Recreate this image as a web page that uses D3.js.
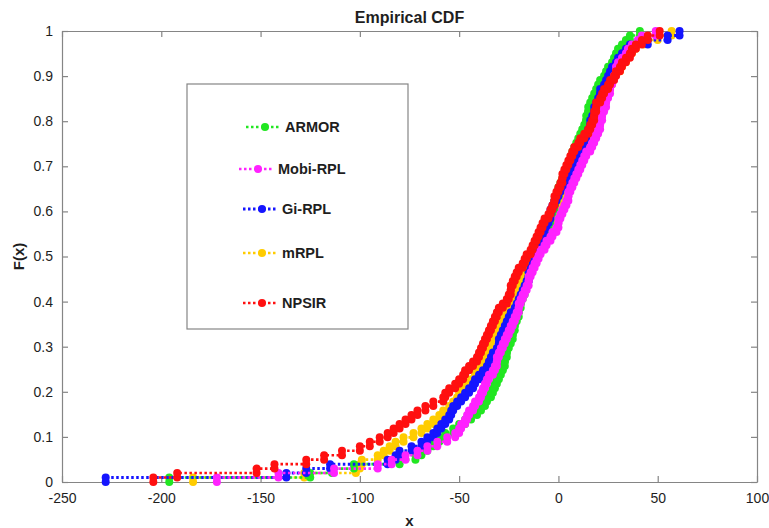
<!DOCTYPE html>
<html><head><meta charset="utf-8">
<script src="https://cdn.jsdelivr.net/npm/d3@7"></script>
<style>body{margin:0;background:#fff}svg{display:block}</style>
</head><body>
<svg id="chart" width="769" height="528"></svg>
<script>
// ---------------- DATA (sample values) ----------------
const seriesNames = ["ARMOR", "Mobi-RPL", "Gi-RPL", "mRPL", "NPSIR"];

const armorSamples = [-196,-125,-114,-103,-80,-72,-69,-66,-63,-60,
  -57,-53,-50,-47,-44,-41,-39,-37,-36,-34,
  -33,-32,-31,-30,-29,-28,-27,-27,-26,-26,
  -25,-24,-23,-23,-22,-22,-21,-20,-20,-19,
  -19,-18,-17,-17,-16,-15,-15,-14,-13,-12,
  -12,-11,-10,-9,-8,-7,-6,-5,-4,-4,
  -3,-2,-2,-1,0,0,1,2,3,4,
  5,6,7,7,8,9,10,11,12,13,
  14,14,15,15,16,17,18,19,20,21,
  23,24,25,27,28,29,30,32,34,36,41];

const mobiRplSamples = [-172,-141,-113,-91,-84,-77,-71,-66,-61,-56,
  -52,-50,-49,-47,-46,-45,-43,-42,-40,-39,
  -38,-37,-36,-35,-33,-32,-31,-31,-30,-29,
  -28,-27,-26,-25,-24,-23,-22,-21,-20,-20,
  -19,-18,-17,-16,-15,-15,-14,-13,-12,-11,
  -10,-9,-7,-6,-4,-3,-1,0,0,1,
  2,3,4,5,5,6,7,8,9,10,
  11,12,13,14,16,17,18,19,20,21,
  21,22,22,23,24,24,25,26,26,27,
  28,29,29,30,32,34,35,37,40,42,49];

const giRplSamples = [-228,-137,-127,-115,-86,-82,-80,-74,-69,-66,
  -63,-61,-59,-57,-55,-54,-53,-51,-49,-47,
  -45,-43,-42,-40,-38,-36,-35,-34,-33,-31,
  -30,-30,-29,-28,-27,-26,-25,-24,-22,-21,
  -20,-19,-18,-17,-16,-15,-15,-14,-13,-12,
  -12,-11,-10,-9,-8,-8,-7,-6,-5,-4,
  -4,-3,-2,-1,0,1,3,4,5,6,
  8,8,9,10,11,12,13,14,15,16,
  16,17,18,18,19,20,21,21,23,24,
  25,26,27,29,30,32,34,36,45,55,61];

const mRplSamples = [-184,-128,-102,-100,-99,-91,-88,-85,-82,-78,
  -73,-69,-66,-63,-60,-58,-55,-53,-51,-50,
  -48,-46,-44,-42,-41,-40,-39,-38,-37,-36,
  -35,-34,-33,-31,-30,-29,-27,-26,-25,-24,
  -23,-22,-21,-20,-19,-18,-17,-16,-15,-14,
  -12,-11,-10,-9,-7,-6,-5,-3,-2,-1,
  0,1,2,3,4,5,6,6,7,8,
  9,10,11,12,13,14,15,16,17,18,
  19,19,20,21,22,23,24,25,26,27,
  28,29,31,32,34,35,37,39,43,50,57];

const npsirSamples = [-204,-192,-152,-143,-127,-118,-109,-100,-95,-90,
  -86,-83,-80,-77,-74,-71,-67,-63,-58,-57,
  -55,-52,-50,-48,-47,-45,-43,-41,-40,-39,
  -38,-37,-36,-35,-34,-33,-32,-31,-30,-28,
  -26,-25,-24,-24,-23,-22,-21,-20,-18,-17,
  -16,-14,-13,-12,-11,-10,-9,-8,-7,-5,
  -4,-3,-2,-2,-1,0,1,2,2,3,
  4,5,6,7,8,10,11,13,15,16,
  17,18,18,19,19,21,22,23,25,26,
  28,29,31,32,34,36,37,39,42,45,51];

const xTickValues = [-250,-200,-150,-100,-50,0,50,100];
const xTickLabels = ["-250","-200","-150","-100","-50","0","50","100"];
const yTickValues = [0,0.1,0.2,0.3,0.4,0.5,0.6,0.7,0.8,0.9,1];
const yTickLabels = ["0","0.1","0.2","0.3","0.4","0.5","0.6","0.7","0.8","0.9","1"];

const titleText = "Empirical CDF";
const xLabelText = "x";
const yLabelText = "F(x)";

// ---------------- STYLE / LAYOUT ----------------
const samplesByName = {
  "ARMOR": armorSamples, "Mobi-RPL": mobiRplSamples, "Gi-RPL": giRplSamples,
  "mRPL": mRplSamples, "NPSIR": npsirSamples
};
const colorByName = {
  "ARMOR": "#22e622", "Mobi-RPL": "#ff22ff", "Gi-RPL": "#1515ff",
  "mRPL": "#ffcc00", "NPSIR": "#ff1010"
};
const drawOrder = ["mRPL", "ARMOR", "Gi-RPL", "Mobi-RPL", "NPSIR"];

const W = 769, H = 528;
const pLeft = 62, pRight = 757, pTop = 31, pBottom = 482;
const axisColor = "#858585", textColor = "#1e1e1e";
const fontFam = "'Liberation Sans', Arial, sans-serif";
const markerR = 4;

const svg = d3.select("#chart");
const x = d3.scaleLinear().domain([-250, 100]).range([pLeft, pRight]);
const y = d3.scaleLinear().domain([0, 1]).range([pBottom, pTop]);

svg.append("rect").attr("x", 0).attr("y", 0).attr("width", W).attr("height", H).attr("fill", "#fff");

// ---------------- AXES ----------------
function styleAxis(g, showText) {
  g.select(".domain").attr("stroke", axisColor).attr("stroke-width", 1.2);
  g.selectAll(".tick line").attr("stroke", axisColor).attr("stroke-width", 1.2);
  g.selectAll(".tick text")
    .attr("fill", textColor)
    .style("font-family", fontFam)
    .style("font-size", "14px")
    .style("display", showText ? null : "none");
}

const gx = svg.append("g").attr("transform", `translate(0,${pBottom})`)
  .call(d3.axisBottom(x).tickValues(xTickValues)
    .tickFormat((d, i) => xTickLabels[i]).tickSizeInner(-6).tickSizeOuter(0).tickPadding(11));
styleAxis(gx, true);

const gxTop = svg.append("g").attr("transform", `translate(0,${pTop})`)
  .call(d3.axisTop(x).tickValues(xTickValues).tickSizeInner(-6).tickSizeOuter(0).tickFormat(""));
styleAxis(gxTop, false);

const gy = svg.append("g").attr("transform", `translate(${pLeft},0)`)
  .call(d3.axisLeft(y).tickValues(yTickValues)
    .tickFormat((d, i) => yTickLabels[i]).tickSizeInner(-6).tickSizeOuter(0).tickPadding(9));
styleAxis(gy, true);

const gyRight = svg.append("g").attr("transform", `translate(${pRight},0)`)
  .call(d3.axisRight(y).tickValues(yTickValues).tickSizeInner(-6).tickSizeOuter(0).tickFormat(""));
styleAxis(gyRight, false);

// ---------------- CURVES (empirical CDF stairs) ----------------
function ecdfVertices(samples) {
  const s = samples.slice().sort(d3.ascending);
  const n = s.length;
  const pts = [];
  s.forEach((v, i) => {
    pts.push([v, i / n]);
    pts.push([v, (i + 1) / n]);
  });
  return pts;
}

const line = d3.line().x(d => x(d[0])).y(d => y(d[1]));

drawOrder.forEach(name => {
  const pts = ecdfVertices(samplesByName[name]);
  const col = colorByName[name];
  const g = svg.append("g").attr("class", "series");
  g.append("path").datum(pts)
    .attr("d", line)
    .attr("fill", "none")
    .attr("stroke", col)
    .attr("stroke-width", name === "Gi-RPL" ? 3 : 2.6)
    .attr("stroke-dasharray", "2.5,2.5");
  g.selectAll("circle").data(pts).enter().append("circle")
    .attr("cx", d => x(d[0]))
    .attr("cy", d => y(d[1]))
    .attr("r", markerR)
    .attr("fill", col);
});

// ---------------- TITLE & LABELS ----------------
svg.append("text").attr("x", (pLeft + pRight) / 2).attr("y", 23)
  .attr("text-anchor", "middle").attr("fill", textColor)
  .style("font-family", fontFam).style("font-size", "16px").style("font-weight", "bold")
  .text(titleText);

svg.append("text").attr("x", (pLeft + pRight) / 2).attr("y", 526)
  .attr("text-anchor", "middle").attr("fill", textColor)
  .style("font-family", fontFam).style("font-size", "15px").style("font-weight", "bold")
  .text(xLabelText);

svg.append("text")
  .attr("transform", `translate(24,${(pTop + pBottom) / 2}) rotate(-90)`)
  .attr("text-anchor", "middle").attr("fill", textColor)
  .style("font-family", fontFam).style("font-size", "15px").style("font-weight", "bold")
  .text(yLabelText);

// ---------------- LEGEND ----------------
const legendBox = { x: 187, y: 84, w: 221, h: 245 };
const legendRowY = [127, 169, 209, 253, 303];
const legendRowDx = [3, -4, 0, 0, 0];

const lg = svg.append("g");
lg.append("rect").attr("x", legendBox.x).attr("y", legendBox.y)
  .attr("width", legendBox.w).attr("height", legendBox.h)
  .attr("fill", "#fff").attr("stroke", axisColor).attr("stroke-width", 1.2);

seriesNames.forEach((name, i) => {
  const cy = legendRowY[i];
  const x0 = 243 + legendRowDx[i];
  const col = colorByName[name];
  lg.append("line").attr("x1", x0).attr("x2", x0 + 35).attr("y1", cy).attr("y2", cy)
    .attr("stroke", col).attr("stroke-width", name === "Gi-RPL" ? 3 : 2.6)
    .attr("stroke-dasharray", "2.5,2.5");
  lg.append("circle").attr("cx", x0 + 19).attr("cy", cy).attr("r", markerR).attr("fill", col);
  lg.append("text").attr("x", x0 + 39).attr("y", cy + 5)
    .attr("fill", textColor)
    .style("font-family", fontFam).style("font-size", "14.5px").style("font-weight", "bold")
    .text(name);
});
</script>
</body></html>
